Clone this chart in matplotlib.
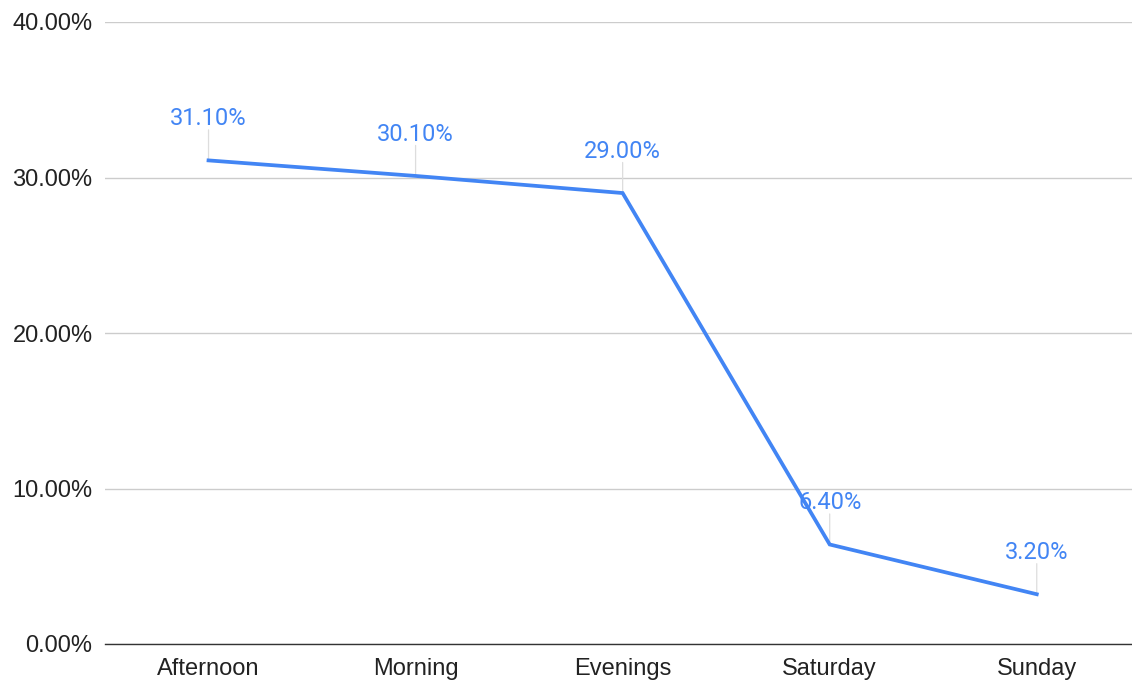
import matplotlib.pyplot as plt
from matplotlib.ticker import FuncFormatter

categories = ['Afternoon', 'Morning', 'Evenings', 'Saturday', 'Sunday']
values = [31.1, 30.1, 29.0, 6.4, 3.2]
yticks = [0, 10, 20, 30, 40]

blue = '#4285F4'

fig = plt.figure(figsize=(11.32, 6.84), dpi=100)
ax = fig.add_axes([105 / 1132, 40 / 684, 1027 / 1132, 622 / 684])

x = range(len(categories))
ax.plot(x, values, color=blue, linewidth=2.7, solid_joinstyle='miter', zorder=3)

# data labels with thin leader lines
for i, v in zip(x, values):
    ax.annotate('', xy=(i, v), xytext=(0, 22), textcoords='offset points',
                arrowprops=dict(arrowstyle='-', color='#dddddd', lw=0.9,
                                shrinkA=0, shrinkB=0), zorder=2)
    ax.annotate(f'{v:.2f}%', xy=(i, v), xytext=(0, 30), textcoords='offset points',
                ha='center', va='center', color=blue, fontsize=17,
                family='Roboto', zorder=4)

ax.set_xlim(-0.5, 4.46)
ax.set_ylim(0, 40)
ax.set_yticks(yticks)
ax.yaxis.set_major_formatter(FuncFormatter(lambda v, p: f'{v:.2f}%'))
ax.set_xticks(list(x))
ax.set_xticklabels(categories)

ax.grid(axis='y', color='#cccccc', linewidth=1)
ax.set_axisbelow(True)
for s in ['top', 'right', 'left']:
    ax.spines[s].set_visible(False)
ax.spines['bottom'].set_color('#333333')
ax.spines['bottom'].set_linewidth(1)
ax.tick_params(length=0, labelsize=17, colors='#222222')
ax.tick_params(axis='y', pad=9)
ax.tick_params(axis='x', pad=10)
for lab in ax.get_xticklabels() + ax.get_yticklabels():
    lab.set_family('Liberation Sans')

fig.savefig('out.png', dpi=100, facecolor='white')
